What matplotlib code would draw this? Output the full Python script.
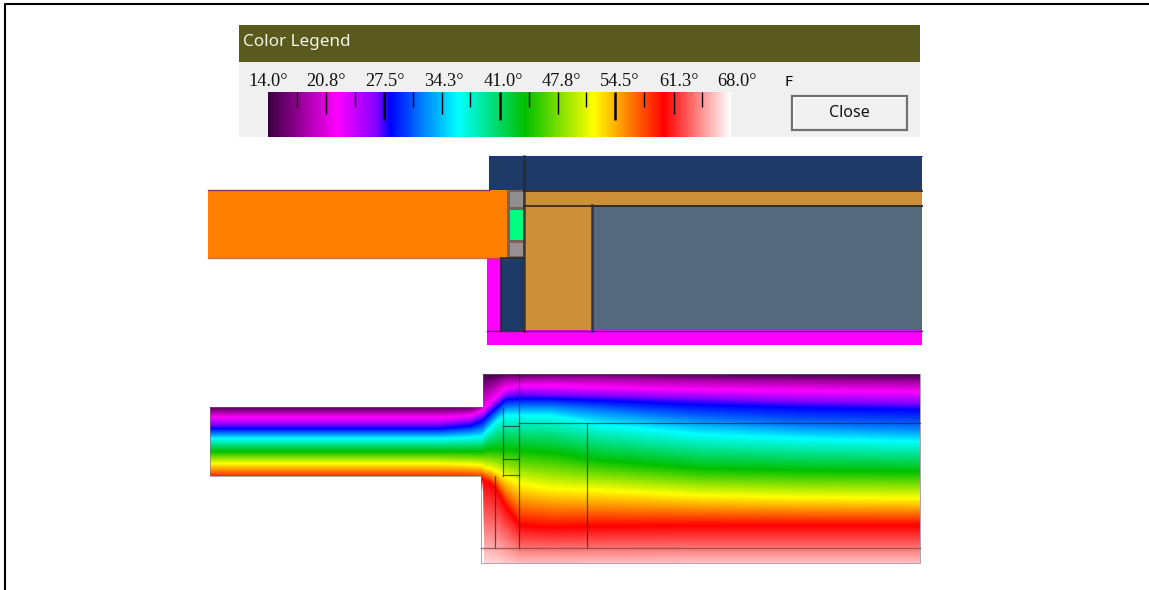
import numpy as np
import matplotlib
matplotlib.use('Agg')
import matplotlib.pyplot as plt
from matplotlib.colors import LinearSegmentedColormap
from matplotlib.patches import Polygon, Rectangle

# legend scale
label_vals = ['14.0°', '20.8°', '27.5°', '34.3°', '41.0°', '47.8°', '54.5°', '61.3°', '68.0°']
label_x = [268, 326, 385, 444, 503, 561, 620, 679, 737]
tick_temps = [17.4, 20.8, 24.1, 27.5, 30.9, 34.3, 37.6, 41.0, 44.4, 47.8, 51.1, 54.5, 57.9, 61.3, 64.6]

# colour stops of the temperature scale
stop_temps = [14, 18, 22, 26.7, 28.2, 32, 36.2, 44, 52, 60.3, 68]
stop_cols = ['#3a0040', '#a000a0', '#ff00ff', '#8000ff', '#0000ff', '#0080ff',
             '#00ffff', '#00c000', '#ffff00', '#ff0000', '#ffffff']

# isotherm heights of the lower picture, one list per stop, one value per column
field_x = [210, 440, 470, 482, 484, 490, 497, 505, 519, 550, 600, 700, 800, 920]
iso_y = [
    [405, 405, 405, 404, 372, 373, 373, 373, 373, 373, 373, 373, 373, 373],
    [411, 411, 410, 406, 390, 386, 382, 378, 378, 377, 377, 379, 380, 381],
    [417, 417, 415, 410, 408, 402, 395, 388, 385, 385, 387, 389, 390, 391],
    [424, 424, 421, 416, 414, 408, 402, 395, 393, 394, 395, 398, 401, 403],
    [428, 428, 425, 420, 418, 412, 406, 399, 398, 398, 400, 404, 407, 409],
    [433, 433, 431, 428, 426, 420, 413, 407, 406, 406, 410, 419, 425, 428],
    [438, 438, 437, 436, 433, 427, 420, 415, 415, 415, 424, 434, 438, 441],
    [451, 451, 451, 451, 450, 449, 449, 449, 450, 452, 460, 468, 470, 471],
    [463, 463, 464, 465, 467, 468, 471, 476, 483, 488, 490, 495, 497, 498],
    [478, 478, 478, 479, 480, 483, 490, 505, 525, 527, 526, 525, 525, 525],
    [490, 490, 490, 491, 578, 578, 578, 578, 576, 575, 575, 575, 575, 575],
]

# outline of the section, lower picture
section_xy = [(210, 407), (483, 407), (483, 374), (920, 374), (920, 563),
              (481, 563), (481, 476), (210, 476)]

temp_cmap = LinearSegmentedColormap.from_list(
    'temps', [((t - 14) / 54, c) for t, c in zip(stop_temps, stop_cols)], N=512)

fig = plt.figure(figsize=(11.49, 5.90), dpi=100)
ax = fig.add_axes([0, 0, 1, 1])

# outer frame, open on the right
ax.plot([5, 5, 1149], [590, 4, 4], color='black', lw=1.5)

# colour legend window
ax.add_patch(Rectangle((239, 62), 681, 75, fc='#f0f0f0', ec='none'))
ax.add_patch(Rectangle((239, 25), 681, 37, fc='#5a5a1e', ec='none'))
ax.text(243, 42, 'Color Legend', color='#f4f4e8', fontsize=12.3, family='Noto Sans', va='center')

scale = np.linspace(14, 68, 500).reshape(1, -1)
ax.imshow(scale, cmap=temp_cmap, vmin=14, vmax=68, extent=(268, 731, 137, 92), aspect='auto', zorder=2)
for i, t in enumerate(tick_temps, start=1):
    x = 268 + (t - 14) * 463 / 54
    if i % 4 == 0:
        ax.plot([x, x], [92, 120], color='black', lw=1.8, solid_capstyle='butt', zorder=3)
    elif i % 2 == 0:
        ax.plot([x, x], [92, 114], color='black', lw=1.0, solid_capstyle='butt', zorder=3)
    else:
        ax.plot([x, x], [92, 107], color='black', lw=1.0, solid_capstyle='butt', zorder=3)
for x, s in zip(label_x, label_vals):
    ax.text(x, 81, s, fontsize=13.2, family='Liberation Serif', ha='center', va='center', color='#111111')
ax.text(788, 82, 'F', fontsize=11, family='Noto Sans', ha='center', va='center', color='black')

# close button
ax.add_patch(Rectangle((792, 96), 115, 34, fc='#f0f0f0', ec='#707070', lw=1.6))
ax.plot([794, 794, 905], [128, 98, 98], color='white', lw=1.2)
ax.text(849, 113, 'Close', fontsize=11.5, family='Noto Sans', ha='center', va='center', color='#111111')

# upper picture: materials
navy = '#1e3a66'
tan = '#cc9038'
slate = '#54697c'
magenta = '#ff00ff'
edge = '#2a2a30'
ax.add_patch(Rectangle((489, 156), 433, 34, fc=navy, ec='none'))
ax.add_patch(Rectangle((487, 258), 14, 73, fc=magenta, ec='none'))
ax.add_patch(Rectangle((487, 330), 435, 15, fc=magenta, ec='none'))
ax.add_patch(Rectangle((501, 258), 23, 73, fc=navy, ec='none'))
ax.add_patch(Rectangle((524, 190), 398, 15, fc=tan, ec='none'))
ax.add_patch(Rectangle((524, 205), 68, 125, fc=tan, ec='none'))
ax.add_patch(Rectangle((592, 205), 330, 125, fc=slate, ec='none'))
ax.add_patch(Rectangle((507, 190), 17, 68, fc='#7a6058', ec='none'))
ax.add_patch(Rectangle((510, 192), 13, 15, fc='#8f8f8f', ec='none'))
ax.add_patch(Rectangle((510, 210), 13, 30, fc='#00ff80', ec='none'))
ax.add_patch(Rectangle((510, 243), 13, 13, fc='#9a8f90', ec='none'))
ax.add_patch(Rectangle((208, 190), 299, 68, fc='#ff8000', ec='none'))
ax.plot([208, 489], [190, 190], color='#5a2a80', lw=1.0, alpha=0.8)
ax.plot([208, 507], [258, 258], color='#c05020', lw=1.0, alpha=0.8)
ax.plot([489, 922], [156, 156], color='#2030a0', lw=0.8, alpha=0.7)
ax.plot([524, 524], [156, 331], color=edge, lw=1.8, alpha=0.85)
ax.plot([489, 489], [156, 190], color='#2030a0', lw=0.8, alpha=0.7)
ax.plot([524, 922], [190.5, 190.5], color='#30201a', lw=1.4, alpha=0.85)
ax.plot([524, 922], [205.5, 205.5], color='#30201a', lw=1.4, alpha=0.85)
ax.plot([592, 592], [205, 331], color=edge, lw=1.8, alpha=0.85)
ax.plot([501, 501], [258, 331], color=edge, lw=1.4, alpha=0.85)
ax.plot([487, 922], [330.5, 330.5], color='#30205a', lw=1.0, alpha=0.85)
ax.plot([501, 524], [258, 258], color=edge, lw=1.4, alpha=0.85)

# lower picture: temperature field, filled column by column between the isotherms
xs = np.arange(210, 921)
ys = np.arange(370, 566)
iso = np.array(iso_y, dtype=float)
field = np.zeros((len(ys), len(xs)))
for j, x in enumerate(xs):
    col_y = [np.interp(x, field_x, row) for row in iso]
    field[:, j] = np.interp(ys, col_y, stop_temps)
im = ax.imshow(field, cmap=temp_cmap, vmin=14, vmax=68, extent=(210, 921, 566, 370),
               aspect='auto', interpolation='bilinear', zorder=2)
outline = Polygon(section_xy, closed=True, fc='none', ec='#806080', lw=0.7, alpha=0.6, zorder=3)
ax.add_patch(outline)
im.set_clip_path(outline)

# construction lines over the field
line_col = '#202a30'
for x0, y0, x1, y1 in [(495, 476, 495, 548), (519, 374, 519, 548), (587, 423, 587, 548),
                       (503, 408, 503, 476), (503, 426, 519, 426), (503, 459, 519, 459),
                       (503, 475, 519, 475), (519, 423, 920, 423)]:
    ax.plot([x0, x1], [y0, y1], color=line_col, lw=0.9, alpha=0.7, zorder=4)
ax.plot([481, 920], [548, 548], color='#804040', lw=1.0, alpha=0.7, zorder=4)

ax.set_xlim(0, 1149)
ax.set_ylim(590, 0)
ax.axis('off')

fig.savefig('out.png', dpi=100, facecolor='white')
